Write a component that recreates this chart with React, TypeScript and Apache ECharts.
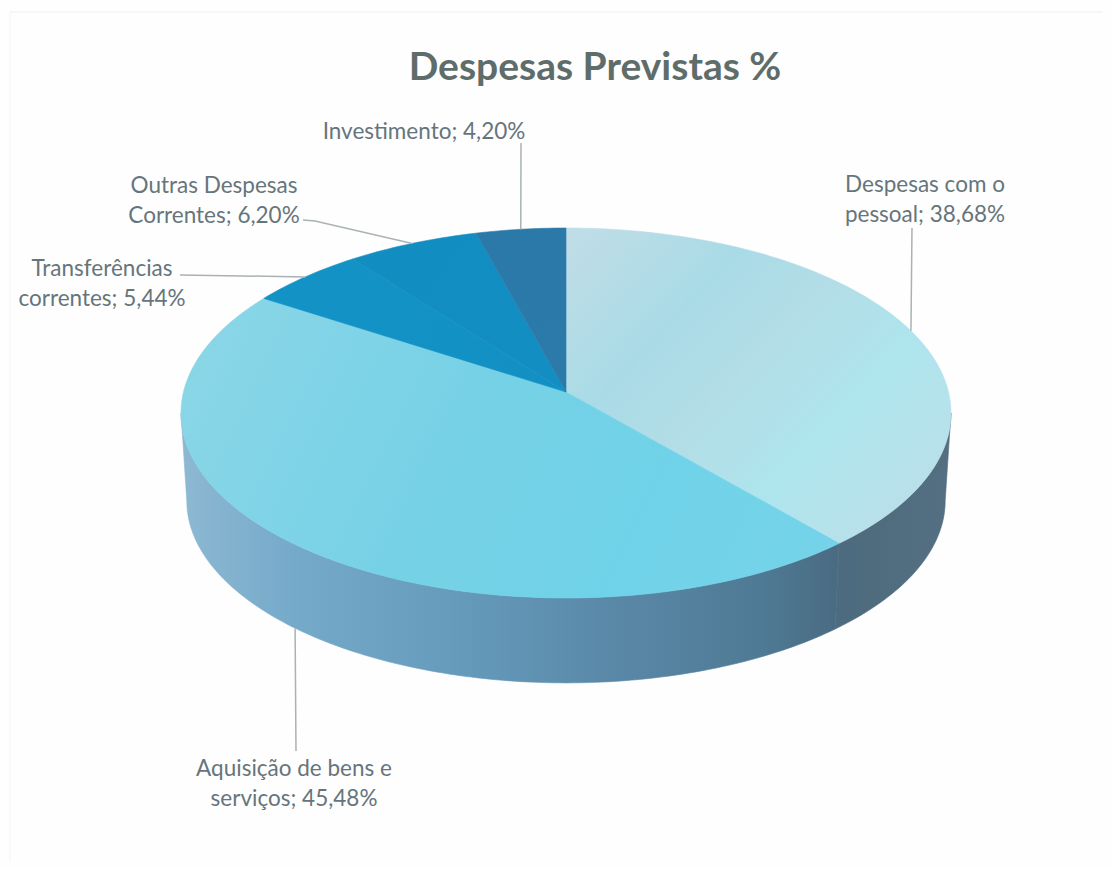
import React, { useEffect, useRef } from "react";
import * as echarts from "echarts";

const chartTitle = "Despesas Previstas %";
const categories = [
  "Despesas com o pessoal",
  "Aquisição de bens e serviços",
  "Transferências correntes",
  "Outras Despesas Correntes",
  "Investimento",
];
const percentages = [38.68, 45.48, 5.44, 6.2, 4.2];
const labelTexts = [
  "Despesas com o\npessoal; 38,68%",
  "Aquisição de bens e\nserviços; 45,48%",
  "Transferências\ncorrentes; 5,44%",
  "Outras Despesas\nCorrentes; 6,20%",
  "Investimento; 4,20%",
];

const W = 1113;
const H = 869;
const FONT = "Lato, 'Open Sans', sans-serif";

// perspective disc
const CX = 566;
const CY = 392;
const RX = 382.5;
const RY = 182.6;
const P = 0.1135;
const WALL_SCALE = 0.985;
const WALL_DROP = 88;

const project = (deg: number, scale = 1, drop = 0): [number, number] => {
  const a = (deg * Math.PI) / 180;
  const u = Math.sin(a);
  const v = Math.cos(a);
  const k = 1 + P * v;
  return [CX + (scale * RX * u) / k, CY + drop - (scale * RY * v) / k];
};

const arc = (from: number, to: number, scale = 1, drop = 0) => {
  const n = Math.max(2, Math.ceil(Math.abs(to - from)));
  const pts: [number, number][] = [];
  for (let i = 0; i <= n; i++) pts.push(project(from + ((to - from) * i) / n, scale, drop));
  return pts;
};

const gradient = (x: number, y: number, x2: number, y2: number, stops: [number, string][]) => ({
  type: "linear",
  global: true,
  x,
  y,
  x2,
  y2,
  colorStops: stops.map(([offset, color]) => ({ offset, color })),
});

const topFills = [
  gradient(570, 230, 900, 540, [
    [0, "#c0dde7"],
    [0.3, "#a9dbe6"],
    [0.5, "#b3dde7"],
    [0.72, "#aee5ed"],
    [1, "#bcdfe9"],
  ]),
  gradient(200, 310, 780, 590, [
    [0, "#8ad6e6"],
    [0.45, "#76d1e6"],
    [0.75, "#70d2e8"],
    [1, "#74d3e9"],
  ]),
  gradient(270, 300, 560, 390, [
    [0, "#1293c6"],
    [1, "#1290c4"],
  ]),
  gradient(340, 240, 560, 390, [
    [0, "#128dc1"],
    [1, "#128ec2"],
  ]),
  gradient(480, 230, 566, 390, [
    [0, "#2b79a9"],
    [1, "#2b7aa9"],
  ]),
];

const wallFill = gradient(185, 0, 950, 0, [
  [0, "#8cb8d2"],
  [0.15, "#74a9c9"],
  [0.35, "#669bbc"],
  [0.55, "#5a89a8"],
  [0.75, "#4f7a95"],
  [0.85, "#4a6c83"],
  [0.86, "#4d6b7e"],
  [1, "#546f81"],
]);

// leader lines, from the label to the rim; layout only
const leaderStart: [number, number][] = [
  [912, 228],
  [296, 751],
  [180, 275],
  [303, 220],
  [521, 143],
];
const leaderElbow: ([number, number] | null)[] = [null, null, null, [315, 221], null];
const labelCentre: [number, number][] = [
  [925, 198],
  [294, 782],
  [102, 282],
  [214, 199],
  [424, 130],
];

const starts: number[] = [];
percentages.reduce((sum, v, i) => {
  starts[i] = sum;
  return sum + v;
}, 0);

const renderSlice = (params: any, api: any) => {
  const i = params.dataIndex;
  const from = (starts[i] / 100) * 360;
  const to = from + (api.value(0) / 100) * 360;
  const mid = (from + to) / 2;
  const children: any[] = [];

  // outer wall: the front half of the rim only
  const limit = (Math.acos(-P) * 180) / Math.PI;
  const wallFrom = Math.max(from, limit);
  const wallTo = Math.min(to, 360 - limit);
  if (wallTo > wallFrom) {
    const upper = arc(wallFrom, wallTo);
    const lower = arc(wallTo, wallFrom, WALL_SCALE, WALL_DROP);
    children.push({
      type: "polygon",
      shape: { points: [...upper, ...lower] },
      style: { fill: wallFill, stroke: wallFill, lineWidth: 0.6 },
    });
  }

  // top face
  children.push({
    type: "polygon",
    shape: { points: [[CX, CY], ...arc(from, to)] },
    style: { fill: topFills[i], stroke: topFills[i], lineWidth: 0.6 },
  });

  // leader line
  const onWall = mid > limit && mid < 360 - limit;
  const anchor = project(mid, onWall ? WALL_SCALE : 1, onWall ? WALL_DROP : 0);
  const pts = [leaderStart[i]];
  if (leaderElbow[i]) pts.push(leaderElbow[i] as [number, number]);
  pts.push(anchor);
  children.push({
    type: "polyline",
    shape: { points: pts },
    style: { stroke: "#aab2b3", lineWidth: 1.5, fill: "none" },
  });

  // label
  children.push({
    type: "text",
    x: labelCentre[i][0],
    y: labelCentre[i][1],
    style: {
      text: labelTexts[i],
      fill: "#66757b",
      font: `22.5px ${FONT}`,
      align: "center",
      verticalAlign: "middle",
      lineHeight: 30,
    },
  });

  return { type: "group", children };
};

export default function App() {
  const ref = useRef<HTMLDivElement>(null);
  useEffect(() => {
    document.body.style.margin = "0";
    document.body.style.background = "#fefefe";
    const chart = echarts.init(ref.current as HTMLDivElement, undefined, { renderer: "svg" });
    chart.setOption({
      animation: false,
      backgroundColor: "#fefefe",
      title: {
        text: chartTitle,
        left: 590,
        top: 40,
        textAlign: "center",
        textStyle: { fontFamily: FONT, fontSize: 39, fontWeight: "bold", color: "#5f6d6a" },
      },
      graphic: [
        { type: "line", shape: { x1: 10, y1: 12, x2: 1103, y2: 12 }, style: { stroke: "#efefef", lineWidth: 1 } },
        { type: "line", shape: { x1: 10, y1: 12, x2: 10, y2: 862 }, style: { stroke: "#f4f4f4", lineWidth: 1 } },
      ],
      series: [
        {
          type: "custom",
          coordinateSystem: "none",
          silent: true,
          renderItem: renderSlice,
          data: categories.map((name, i) => ({ name, value: [percentages[i]] })),
        },
      ],
    });
    return () => chart.dispose();
  }, []);
  return <div ref={ref} style={{ position: "fixed", left: 0, top: 0, width: W, height: H }} />;
}
